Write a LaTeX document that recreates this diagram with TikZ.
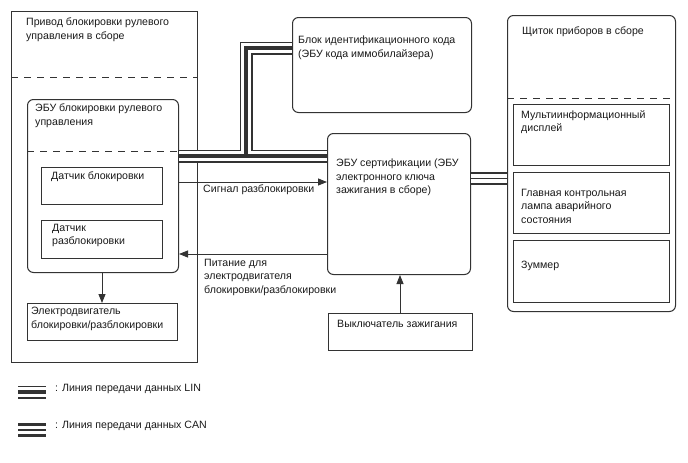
\documentclass[tikz,border=0pt]{standalone}
\usepackage{fontspec}
\setmainfont{Liberation Sans}
\usetikzlibrary{arrows.meta}
\definecolor{ln}{HTML}{333333}
\tikzset{
  box/.style={draw=ln, line width=1pt, inner sep=0pt, anchor=north west},
  rbox/.style={box, rounded corners=6pt},
  txt/.style={anchor=north west, inner sep=0pt, align=left, font=\fontsize{10.6}{13.4}\selectfont, text=black!90},
  dsh/.style={draw=ln, line width=1pt, dash pattern=on 7pt off 6pt},
  arr/.style={draw=ln, line width=0.8pt, -{Triangle[length=9pt,width=7pt]}},
  linA/.style={draw=ln, line width=13pt},
  linB/.style={draw=white, line width=10.6pt},
  linC/.style={draw=ln, line width=3.2pt},
  canA/.style={draw=ln, line width=13.5pt},
  canB/.style={draw=white, line width=8.5pt},
  canC/.style={draw=ln, line width=1.2pt},
}
\begin{document}
\begin{tikzpicture}[x=1pt,y=-1pt]
\useasboundingbox (0,0) rectangle (688,463);
% outer steering lock actuator
\node[box, minimum width=186pt, minimum height=351pt] (act) at (11,11) {};
\node[txt] (actt) at (26,18) {Привод блокировки рулевого\\управления в сборе};
\coordinate (actdl) at (11,77);
\coordinate (actdr) at (197,77);
\draw[dsh] (actdl) -- (actdr);
% steering lock ECU
\node[rbox, minimum width=151pt, minimum height=173pt] (ecu) at (27,99) {};
\node[txt] (ecut) at (35,104) {ЭБУ блокировки рулевого\\управления};
\coordinate (ecudl) at (27,151);
\coordinate (ecudr) at (178,151);
\draw[dsh] (ecudl) -- (ecudr);
\node[box, minimum width=121pt, minimum height=37pt] (s1) at (41,167) {};
\node[txt] (s1t) at (51,172) {Датчик блокировки};
\node[box, minimum width=121pt, minimum height=38pt] (s2) at (41,220) {};
\node[txt] (s2t) at (52,224) {Датчик\\разблокировки};
% motor
\node[box, minimum width=150pt, minimum height=37pt] (mot) at (27,303) {};
\node[txt] (mott) at (31,307) {Электродвигатель\\блокировки/разблокировки};
\draw[arr] (ecu.south -| 102,0) -- (mot.north -| 102,0);
% immobiliser
\node[rbox, minimum width=179pt, minimum height=95pt] (imm) at (292,17) {};
\node[txt] (immt) at (298,36) {Блок идентификационного кода\\(ЭБУ кода иммобилайзера)};
% certification ECU
\node[rbox, minimum width=143pt, minimum height=141pt] (cert) at (327,133) {};
\node[txt] (certt) at (336,159) {ЭБУ сертификации (ЭБУ\\электронного ключа\\зажигания в сборе)};
% ignition switch
\node[box, minimum width=144pt, minimum height=37pt] (ign) at (328,313) {};
\node[txt] (ignt) at (337,320) {Выключатель зажигания};
\draw[arr] (ign.north -| 400,0) -- (cert.south -| 400,0);
% combination meter
\node[rbox, minimum width=168pt, minimum height=296pt] (cm) at (507,15) {};
\node[txt] (cmt) at (522,27) {Щиток приборов в сборе};
\coordinate (cmdl) at (507,98);
\coordinate (cmdr) at (675,98);
\draw[dsh] (cmdl) -- (cmdr);
\node[box, minimum width=156pt, minimum height=61pt] (m1) at (513,104) {};
\node[txt] (m1t) at (521,110) {Мультиинформационный\\дисплей};
\node[box, minimum width=156pt, minimum height=61pt] (m2) at (513,172) {};
\node[txt] (m2t) at (521,189) {Главная контрольная\\лампа аварийного\\состояния};
\node[box, minimum width=156pt, minimum height=62pt] (m3) at (513,240) {};
\node[txt] (m3t) at (521,261) {Зуммер};
% signal arrows
\draw[arr] (ecu.east |- 0,182) -- (cert.west |- 0,182);
\node[txt] (sigt) at (203,185) {Сигнал разблокировки};
\draw[arr] (cert.west |- 0,254) -- (ecu.east |- 0,254);
\node[txt] (powt) at (204,259) {Питание для\\электродвигателя\\блокировки/разблокировки};
% LIN bus
\coordinate (br) at (246,156);
\coordinate (brt) at (246,48);
\foreach \s in {linA,linB,linC}{
  \draw[\s] (ecu.east |- br) -- (br) -- (brt) -- (imm.west |- brt);
  \draw[\s] (br) -- (cert.west |- br);
}
% CAN bus
\foreach \s in {canA,canB,canC}{
  \draw[\s] (cert.east |- 0,178.7) -- (cm.west |- 0,178.7);
}
% legend
\coordinate (l1a) at (18,392);
\coordinate (l1b) at (46,392);
\foreach \s in {linA,linB,linC}{ \draw[\s] (l1a) -- (l1b); }
\node[txt] (l1t) at (55,384) {: Линия передачи данных LIN};
\coordinate (l2a) at (18,430);
\coordinate (l2b) at (46,430);
\foreach \s in {canA,canB,canC}{ \draw[\s] (l2a) -- (l2b); }
\node[txt] (l2t) at (55,421) {: Линия передачи данных CAN};
\end{tikzpicture}
\end{document}
